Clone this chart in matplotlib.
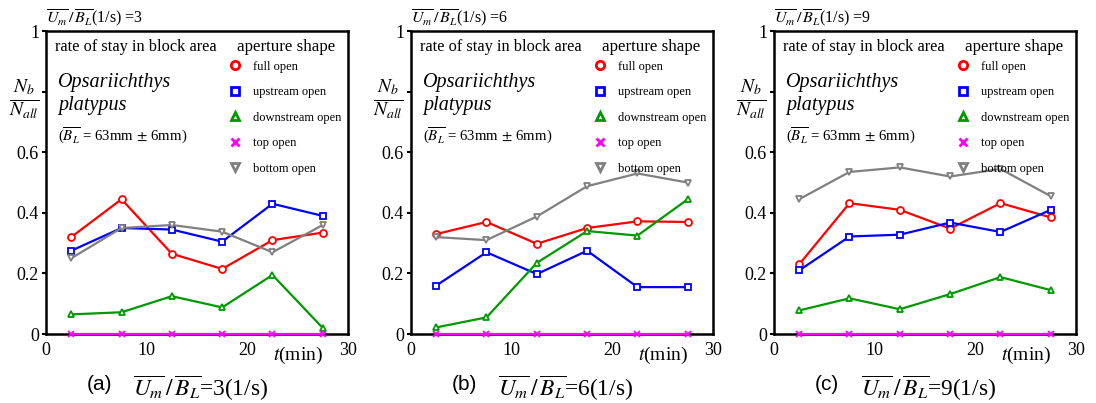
import matplotlib
matplotlib.use("Agg")
import matplotlib.pyplot as plt
from matplotlib.lines import Line2D

plt.rcParams["font.family"] = ["Liberation Serif", "DejaVu Serif"]
plt.rcParams["mathtext.fontset"] = "stix"

# time bins (min)
t = [2.5, 7.5, 12.5, 17.5, 22.5, 27.5]

series_names = ["full open", "upstream open", "downstream open", "top open", "bottom open"]
colors = ["#ff0000", "#0000ff", "#009900", "#ff00ff", "#808080"]
markers = ["o", "s", "^", "x", "v"]

ratios = [3, 6, 9]
panel_tags = ["(a)", "(b)", "(c)"]

# Um/BL = 3
full_3 = [0.32, 0.445, 0.265, 0.215, 0.31, 0.335]
up_3 = [0.275, 0.35, 0.345, 0.305, 0.43, 0.39]
down_3 = [0.065, 0.072, 0.125, 0.088, 0.195, 0.02]
top_3 = [0, 0, 0, 0, 0, 0]
bottom_3 = [0.25, 0.35, 0.36, 0.338, 0.27, 0.36]

# Um/BL = 6
full_6 = [0.33, 0.37, 0.298, 0.35, 0.372, 0.37]
up_6 = [0.16, 0.27, 0.198, 0.275, 0.155, 0.155]
down_6 = [0.022, 0.055, 0.235, 0.34, 0.325, 0.445]
top_6 = [0, 0, 0, 0, 0, 0]
bottom_6 = [0.32, 0.31, 0.388, 0.488, 0.53, 0.5]

# Um/BL = 9
full_9 = [0.23, 0.432, 0.41, 0.348, 0.432, 0.385]
up_9 = [0.21, 0.322, 0.328, 0.368, 0.337, 0.41]
down_9 = [0.078, 0.118, 0.082, 0.132, 0.188, 0.145]
top_9 = [0, 0, 0, 0, 0, 0]
bottom_9 = [0.445, 0.535, 0.55, 0.52, 0.545, 0.455]

panels = [
    [full_3, up_3, down_3, top_3, bottom_3],
    [full_6, up_6, down_6, top_6, bottom_6],
    [full_9, up_9, down_9, top_9, bottom_9],
]

x_ticks = [0, 10, 20, 30]
y_ticks = [0, 0.2, 0.4, 0.6, 0.8, 1.0]
y_ticklabels = ["0", "0.2", "0.4", "0.6", r"$\frac{N_b}{N_{all}}$", "1"]

fig = plt.figure(figsize=(10.96, 4.03), dpi=100)
lefts = [0.042, 0.375, 0.7062]
frac = r"$\overline{U_m}\,/\,\overline{B_L}$"

for k, (left, data) in enumerate(zip(lefts, panels)):
    ax = fig.add_axes([left, 0.171, 0.2755, 0.752])
    for ys, c, m in zip(data, colors, markers):
        ax.plot(t, ys, color=c, lw=1.6, marker=m, ms=5, mfc="white",
                mec=c, mew=1.3, clip_on=False, zorder=3)

    ax.set_xlim(0, 30)
    ax.set_ylim(0, 1)
    ax.set_xticks(x_ticks)
    ax.set_xticklabels([str(v) for v in x_ticks])
    ax.set_yticks(y_ticks)
    ax.set_yticklabels(y_ticklabels)
    for lab in ax.get_yticklabels():
        lab.set_fontsize(13)
    ax.get_yticklabels()[4].set_fontsize(20)
    ax.tick_params(axis="y", direction="out", length=3, width=1.5, pad=2)
    ax.tick_params(axis="x", length=0, pad=6, labelsize=13)
    for sp in ax.spines.values():
        sp.set_linewidth(1.8)

    ax.text(25.0, -0.035, r"$t$(min)", fontsize=14, ha="center", va="top",
            transform=ax.transData)

    # annotations inside the box
    ax.text(0.03, 0.947, "rate of stay in block area", fontsize=11.8,
            transform=ax.transAxes, va="center")
    ax.text(0.04, 0.83, "Opsariichthys", fontsize=14.5, style="italic",
            transform=ax.transAxes, va="center")
    ax.text(0.04, 0.755, "platypus", fontsize=14.5, style="italic",
            transform=ax.transAxes, va="center")
    ax.text(0.04, 0.655, r"($\overline{B_L}$ = 63mm$\,\pm\,$6mm)", fontsize=10.7,
            transform=ax.transAxes, va="center")

    ax.text(0.795, 0.947, "aperture shape", fontsize=12.2, ha="center", va="center",
            transform=ax.transAxes)
    handles = [Line2D([], [], ls="none", marker=m, ms=6, mfc="white", mec=c, mew=2.0)
               for c, m in zip(colors, markers)]
    ax.legend(handles, series_names, loc="upper left", bbox_to_anchor=(0.604, 0.902),
              frameon=False, fontsize=9, labelspacing=1.08, handlelength=1.0,
              handletextpad=1.0, borderaxespad=0, borderpad=0)

    ax.text(0.0, 1.006, frac + r"(1/s) =" + str(ratios[k]), fontsize=11.5,
            transform=ax.transAxes, ha="left", va="bottom")

    # panel caption
    ax.text(0.136, -0.135, panel_tags[k], fontsize=15, ha="left", va="top",
            family="Liberation Sans", transform=ax.transAxes)
    ax.text(0.288, -0.13, frac + "=" + str(ratios[k]) + "(1/s)", fontsize=16.8,
            ha="left", va="top", transform=ax.transAxes)

fig.savefig("out.png", dpi=100)
